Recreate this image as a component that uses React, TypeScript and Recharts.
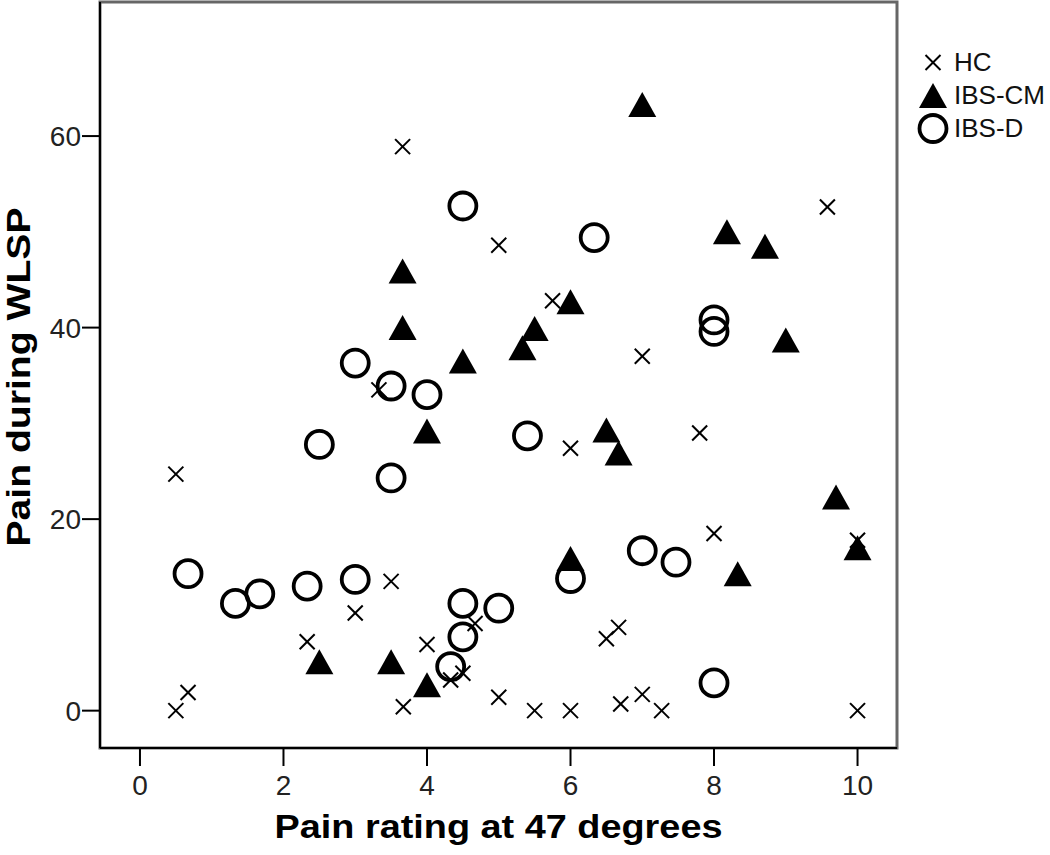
import React from "react";
import { ScatterChart, Scatter, XAxis, YAxis, ReferenceArea, Legend, Label } from "recharts";

// values
const HC_X = [3.66, 5, 9.58, 5.75, 7, 3.33, 0.5, 3.5, 3, 2.33, 4, 4.67, 4.33, 4.5, 3.67, 0.67, 0.5, 5, 6, 7.8, 8, 10, 6.67, 6.5, 5.5, 6, 6.7, 7, 7.27, 10];
const HC_Y = [58.9, 48.6, 52.6, 42.8, 37, 33.5, 24.7, 13.5, 10.2, 7.2, 6.9, 9.1, 3.2, 3.9, 0.4, 1.9, 0, 1.4, 27.4, 29, 18.5, 17.8, 8.7, 7.5, 0, 0, 0.7, 1.7, 0, 0];

const CM_X = [7, 3.66, 3.66, 4.5, 8.18, 8.71, 6, 5.5, 5.33, 9, 4, 6.5, 6.67, 9.7, 10, 6, 8.33, 2.5, 3.5, 4];
const CM_Y = [63.3, 45.9, 40, 36.5, 50, 48.5, 42.7, 39.9, 37.9, 38.7, 29.2, 29.3, 26.9, 22.3, 17, 15.9, 14.3, 5.1, 5.1, 2.7];

const D_X = [4.5, 6.33, 3, 8, 8, 3.5, 4, 2.5, 3.5, 5.4, 0.67, 1.33, 1.67, 2.33, 3, 4.5, 5, 4.5, 4.33, 6, 7, 7.47, 8];
const D_Y = [52.7, 49.4, 36.3, 40.8, 39.6, 33.9, 33, 27.8, 24.3, 28.7, 14.3, 11.2, 12.2, 13, 13.7, 11.2, 10.7, 7.7, 4.6, 13.8, 16.7, 15.5, 2.9];

const X_TICKS = [0, 2, 4, 6, 8, 10];
const Y_TICKS = [0, 20, 40, 60];
const X_DOMAIN = [-0.557, 10.55];
const Y_DOMAIN = [-3.9, 74];

const zip = (xs: number[], ys: number[]) => xs.map((x, i) => ({ x, y: ys[i] }));
const hcData = zip(HC_X, HC_Y);
const cmData = zip(CM_X, CM_Y);
const dData = zip(D_X, D_Y);

const FONT = '"Liberation Sans", Arial, sans-serif';

const Cross = ({ cx, cy, s = 7.5 }: any) => (
  <g stroke="#000" strokeWidth={2}>
    <line x1={cx - s} y1={cy - s} x2={cx + s} y2={cy + s} />
    <line x1={cx - s} y1={cy + s} x2={cx + s} y2={cy - s} />
  </g>
);

const Tri = ({ cx, cy }: any) => (
  <path d={`M${cx},${cy - 12.5} L${cx + 14},${cy + 12.5} L${cx - 14},${cy + 12.5} Z`} fill="#000" />
);

const Ring = ({ cx, cy }: any) => (
  <circle cx={cx} cy={cy} r={13.5} fill="none" stroke="#000" strokeWidth={3.8} />
);

const LEGEND = [
  { name: "HC", Icon: Cross },
  { name: "IBS-CM", Icon: Tri },
  { name: "IBS-D", Icon: Ring },
];

const renderLegend = () => (
  <div style={{ fontFamily: FONT, fontSize: 26, color: "#111" }}>
    {LEGEND.map(({ name, Icon }) => (
      <div key={name} style={{ display: "flex", alignItems: "center", height: 33 }}>
        <svg width={38} height={33} style={{ display: "block" }}>
          <Icon cx={20} cy={16.5} />
        </svg>
        <span style={{ marginLeft: 3 }}>{name}</span>
      </div>
    ))}
  </div>
);

export default function App() {
  return (
    <div style={{ position: "absolute", left: 0, top: 0, width: 1050, height: 855, background: "#fff" }}>
      <ScatterChart width={1050} height={855} margin={{ top: 2, right: 153, bottom: 0, left: 0 }}>
        <ReferenceArea
          x1={X_DOMAIN[0]}
          x2={X_DOMAIN[1]}
          y1={Y_DOMAIN[0]}
          y2={Y_DOMAIN[1]}
          fill="none"
          stroke="#666"
          strokeWidth={3}
          ifOverflow="visible"
        />
        <XAxis
          type="number"
          dataKey="x"
          domain={X_DOMAIN}
          ticks={X_TICKS}
          allowDataOverflow
          height={107}
          tickSize={18}
          tickMargin={9}
          axisLine={{ stroke: "#000", strokeWidth: 2 }}
          tickLine={{ stroke: "#000", strokeWidth: 2 }}
          tick={{ fill: "#222", fontSize: 28, fontFamily: FONT }}
        >
          <Label
            content={({ viewBox }: any) => (
              <text
                x={viewBox.x + viewBox.width / 2}
                y={838}
                textAnchor="middle"
                fontFamily={FONT}
                fontWeight="bold"
                fontSize={33}
                textLength={448}
                lengthAdjust="spacingAndGlyphs"
                fill="#000"
              >
                Pain rating at 47 degrees
              </text>
            )}
          />
        </XAxis>
        <YAxis
          type="number"
          dataKey="y"
          domain={Y_DOMAIN}
          ticks={Y_TICKS}
          allowDataOverflow
          width={100}
          tickSize={18}
          tickMargin={1}
          axisLine={{ stroke: "#000", strokeWidth: 2 }}
          tickLine={{ stroke: "#000", strokeWidth: 2 }}
          tick={{ fill: "#222", fontSize: 28, fontFamily: FONT }}
        >
          <Label
            content={({ viewBox }: any) => {
              const cy = viewBox.y + viewBox.height / 2 + 2;
              return (
                <text
                  x={30}
                  y={cy}
                  transform={`rotate(-90, 30, ${cy})`}
                  textAnchor="middle"
                  fontFamily={FONT}
                  fontWeight="bold"
                  fontSize={33}
                  textLength={339}
                  lengthAdjust="spacingAndGlyphs"
                  fill="#000"
                >
                  Pain during WLSP
                </text>
              );
            }}
          />
        </YAxis>
        <Legend
          layout="vertical"
          align="center"
          verticalAlign="middle"
          content={renderLegend}
          wrapperStyle={{ left: 913, top: 46, width: 137 }}
        />
        <Scatter name="HC" data={hcData} shape={(p: any) => <Cross cx={p.cx} cy={p.cy} />} isAnimationActive={false} />
        <Scatter name="IBS-CM" data={cmData} shape={(p: any) => <Tri cx={p.cx} cy={p.cy} />} isAnimationActive={false} />
        <Scatter name="IBS-D" data={dData} shape={(p: any) => <Ring cx={p.cx} cy={p.cy} />} isAnimationActive={false} />
      </ScatterChart>
    </div>
  );
}
